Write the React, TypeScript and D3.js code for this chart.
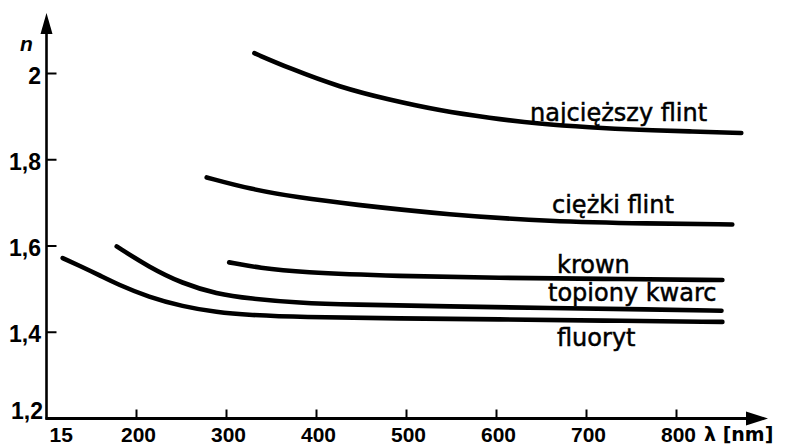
import React from "react";
import * as d3 from "d3";

// ---- data ----
const wavelengthTicks = [200, 300, 400, 500, 600, 700, 800];
const wavelengthTickLabels = ["200", "300", "400", "500", "600", "700", "800"];
const xOriginLabel = "15";
const indexTicks = [1.4, 1.6, 1.8, 2.0];
const indexTickLabels = ["1,4", "1,6", "1,8", "2"];
const yOriginLabel = "1,2";
const xAxisTitle = "λ [nm]";
const yAxisTitle = "n";

const seriesNames = ["najcięższy flint", "ciężki flint", "krown", "topiony kwarc", "fluoryt"];

const najciezszyLambda = [331, 370, 426, 481, 537, 592, 648, 703, 759, 814, 872];
const najciezszyN = [2.047, 2.012, 1.968, 1.939, 1.914, 1.897, 1.883, 1.875, 1.869, 1.866, 1.862];

const ciezkiLambda = [278, 326, 381, 437, 548, 659, 770, 862];
const ciezkiN = [1.759, 1.732, 1.712, 1.697, 1.672, 1.657, 1.652, 1.65];

const krownLambda = [303, 337, 381, 492, 603, 714, 851];
const krownN = [1.562, 1.549, 1.539, 1.530, 1.526, 1.524, 1.521];

const kwarcLambda = [178, 214, 251, 289, 326, 381, 437, 548, 659, 770, 850];
const kwarcN = [1.599, 1.551, 1.513, 1.489, 1.478, 1.468, 1.464, 1.46, 1.456, 1.453, 1.45];

const fluorytLambda = [118, 140, 159, 178, 214, 251, 289, 326, 381, 492, 603, 714, 851];
const fluorytN = [1.572, 1.551, 1.532, 1.512, 1.481, 1.46, 1.446, 1.44, 1.435, 1.432, 1.43, 1.427, 1.424];

const seriesLambda = [najciezszyLambda, ciezkiLambda, krownLambda, kwarcLambda, fluorytLambda];
const seriesN = [najciezszyN, ciezkiN, krownN, kwarcN, fluorytN];

// ---- layout ----
const W = 789;
const H = 447;
const labelLayout = [
  { x: 530, y: 121 },
  { x: 552, y: 213 },
  { x: 557, y: 273 },
  { x: 548, y: 301 },
  { x: 557, y: 346 },
];

export default function App() {
  const x = d3.scaleLinear().domain([100, 900]).range([46.5, 766.5]);
  const y = d3.scaleLinear().domain([1.2, 2.0]).range([418.5, 73.5]);

  const line = d3
    .line<[number, number]>()
    .x((d) => x(d[0]))
    .y((d) => y(d[1]))
    .curve(d3.curveBasis);

  const x0 = x(100);
  const y0 = y(1.2);
  const yTop = 13;
  const xTip = 768;

  const tickFont = "'Liberation Sans', Arial, sans-serif";
  const labelFont = "'DejaVu Sans', Verdana, sans-serif";

  return (
    <svg
      width={W}
      height={H}
      viewBox={`0 0 ${W} ${H}`}
      style={{ position: "absolute", left: 0, top: 0, background: "#fff" }}
    >
      <rect x={0} y={0} width={W} height={H} fill="#fff" />

      {/* axes */}
      <line x1={x0} y1={y0 + 1} x2={x0} y2={yTop + 12} stroke="#000" strokeWidth={2.6} />
      <path d={`M${x0},${yTop} L${x0 - 6},${yTop + 21} L${x0 + 6},${yTop + 21} Z`} fill="#000" />
      <line x1={x0 - 1} y1={y0} x2={xTip - 12} y2={y0} stroke="#000" strokeWidth={2.8} />
      <path d={`M${xTip},${y0} L${xTip - 22},${y0 - 7} L${xTip - 22},${y0 + 7} Z`} fill="#000" />

      {/* x ticks */}
      {wavelengthTicks.map((t, i) => (
        <g key={"xt" + i}>
          <line x1={x(t)} y1={y0} x2={x(t)} y2={y0 - 9} stroke="#000" strokeWidth={2} />
          <text
            x={x(t) + 2}
            y={442}
            textAnchor="middle"
            fontFamily={tickFont}
            fontWeight="bold"
            fontSize={21}
            fill="#000"
          >
            {wavelengthTickLabels[i]}
          </text>
        </g>
      ))}
      <text x={x0 + 3} y={442} fontFamily={tickFont} fontWeight="bold" fontSize={21} fill="#000">
        {xOriginLabel}
      </text>
      <text x={704} y={441} fontFamily={labelFont} fontWeight="bold" fontSize={19} fill="#000">
        {xAxisTitle}
      </text>

      {/* y ticks */}
      {indexTicks.map((t, i) => (
        <g key={"yt" + i}>
          <line x1={x0} y1={y(t)} x2={x0 + 10} y2={y(t)} stroke="#000" strokeWidth={2} />
          <text
            x={41}
            y={y(t) + 10}
            textAnchor="end"
            fontFamily={tickFont}
            fontWeight="bold"
            fontSize={23}
            fill="#000"
          >
            {indexTickLabels[i]}
          </text>
        </g>
      ))}
      <text x={43} y={y0} textAnchor="end" fontFamily={tickFont} fontWeight="bold" fontSize={23} fill="#000">
        {yOriginLabel}
      </text>
      <text
        x={20}
        y={51}
        fontFamily={tickFont}
        fontWeight="bold"
        fontStyle="italic"
        fontSize={21}
        fill="#000"
      >
        {yAxisTitle}
      </text>

      {/* curves */}
      {seriesNames.map((name, i) => {
        const pts = seriesLambda[i].map((l, j) => [l, seriesN[i][j]] as [number, number]);
        return (
          <path
            key={"s" + i}
            d={line(pts) || ""}
            fill="none"
            stroke="#000"
            strokeWidth={4.6}
            strokeLinecap="round"
            strokeLinejoin="round"
          />
        );
      })}

      {/* curve labels */}
      {seriesNames.map((name, i) => (
        <text
          key={"l" + i}
          x={labelLayout[i].x}
          y={labelLayout[i].y}
          fontFamily={labelFont}
          fontSize={24}
          fill="#000"
          stroke="#000"
          strokeWidth={0.5}
        >
          {name}
        </text>
      ))}
    </svg>
  );
}
